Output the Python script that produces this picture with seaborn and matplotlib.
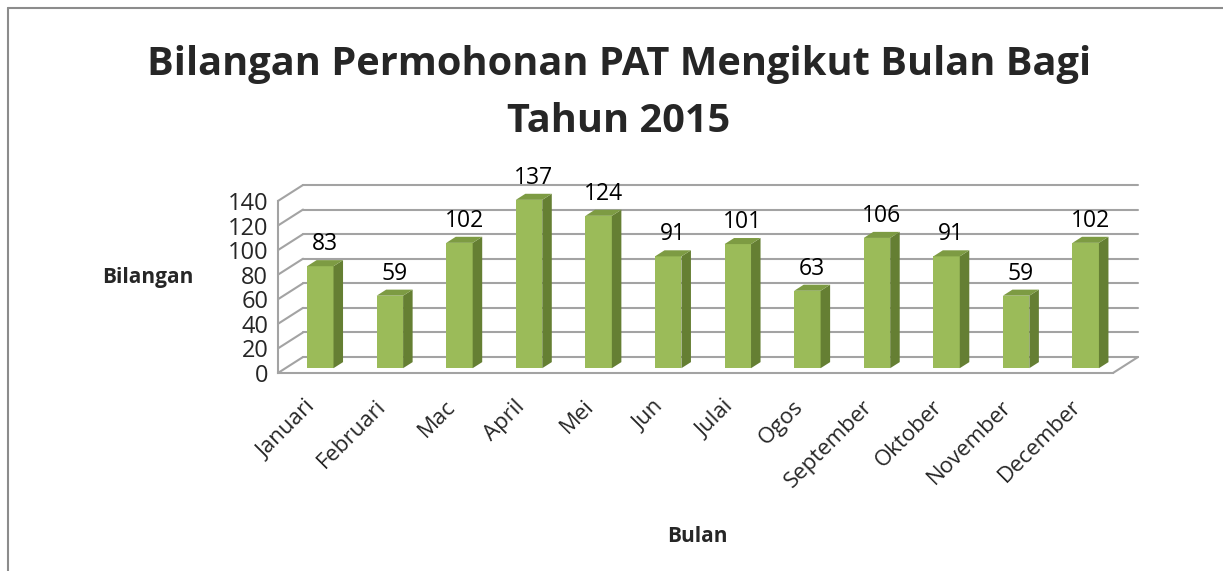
import matplotlib
matplotlib.use('Agg')
import matplotlib.pyplot as plt
from matplotlib.patches import Polygon
from matplotlib.lines import Line2D
import numpy as np
import pandas as pd
import seaborn as sns

months = ['Januari', 'Februari', 'Mac', 'April', 'Mei', 'Jun', 'Julai',
          'Ogos', 'September', 'Oktober', 'November', 'December']
counts = [83, 59, 102, 137, 124, 91, 101, 63, 106, 91, 59, 102]
y_ticks = [0, 20, 40, 60, 80, 100, 120, 140]

title = 'Bilangan Permohonan PAT Mengikut Bulan Bagi\nTahun 2015'
x_title = 'Bulan'
y_title = 'Bilangan'

sns.set_style('white')
plt.rcParams['font.family'] = ['Open Sans', 'DejaVu Sans']

front_col = '#9bbb59'
side_col = '#657f33'
top_col = '#7d9b43'
grid_col = '#a3a3a3'

# fake 3d: depth offset of the back wall in data units
DX = 0.36
DY = 13.0
t0 = 0.3   # where the bar front sits in the depth
td = 0.38  # bar depth

fig = plt.figure(figsize=(12.23, 5.71), dpi=100)
ax = fig.add_axes([0.2273, 0.3468, 0.7112, 0.3443])

df = pd.DataFrame({'Bulan': months, 'Bilangan': counts})
sns.barplot(data=df, x='Bulan', y='Bilangan', color=front_col, width=0.38,
            saturation=1, ax=ax, zorder=3)

n = len(months)
x0, x1 = -0.5, n - 0.5

# walls and floor
for v in y_ticks:
    ax.plot([x0, x0 + DX], [v, v + DY], color=grid_col, lw=1.5, zorder=1, clip_on=False)
    ax.plot([x0 + DX, x1 + DX], [v + DY, v + DY], color=grid_col, lw=1.5, zorder=1, clip_on=False)
ax.plot([x1, x1 + DX], [0, DY], color=grid_col, lw=1.5, zorder=1, clip_on=False)

# shift bars into depth and add side + top faces
for i, p in enumerate(ax.patches):
    p.set_x(p.get_x() + t0 * DX)
    p.set_y(t0 * DY)
    p.set_linewidth(0)
    xl = p.get_x()
    w = p.get_width()
    yb = p.get_y()
    h = p.get_height()
    xr = xl + w
    yt = yb + h
    ax.add_patch(Polygon([(xr, yb), (xr + td * DX, yb + td * DY),
                          (xr + td * DX, yt + td * DY), (xr, yt)],
                         closed=True, facecolor=side_col, edgecolor='none', zorder=3))
    ax.add_patch(Polygon([(xl, yt), (xr, yt), (xr + td * DX, yt + td * DY),
                          (xl + td * DX, yt + td * DY)],
                         closed=True, facecolor=top_col, edgecolor='none', zorder=3))
    ax.text(xl + w / 2 + td * DX / 2, yt + td * DY + 8, str(counts[i]),
            ha='center', va='baseline', fontsize=16.5, color='black', zorder=4)

ax.set_xlim(-0.5, 12.0)
ax.set_ylim(0, 160)
ax.set_yticks(y_ticks)
ax.set_xticks(np.arange(-0.5, n, 1.0), minor=True)
ax.tick_params(axis='x', which='major', length=0, pad=22, labelsize=16)
ax.tick_params(axis='x', which='minor', length=6, width=1.5, color=grid_col, direction='out')
ax.tick_params(axis='y', length=5, width=1.5, color=grid_col, direction='out', labelsize=17, pad=2)
plt.setp(ax.get_xticklabels(), rotation=45, ha='right', va='center', rotation_mode='anchor')

for s in ['top', 'right']:
    ax.spines[s].set_visible(False)
ax.spines['bottom'].set_bounds(x0, x1)
ax.spines['left'].set_bounds(0, 140)
for s in ['bottom', 'left']:
    ax.spines[s].set_color(grid_col)
    ax.spines[s].set_linewidth(1.5)
ax.patch.set_visible(False)

ax.set_xlabel(x_title, fontsize=15, fontweight='bold')
ax.set_ylabel(y_title, fontsize=15, fontweight='bold', rotation=0, ha='center', va='center')
ax.xaxis.set_label_coords(0.4817, -0.778)
ax.yaxis.set_label_coords(-0.1495, 0.488)

fig.text(0.506, 0.838, title, ha='center', va='center', fontsize=28.6,
         fontweight='bold', linespacing=1.6)

# chart frame
fig.add_artist(Line2D([8 / 1223, 8 / 1223], [0, 1 - 8 / 571], color='#8c8c8c', lw=1.5))
fig.add_artist(Line2D([8 / 1223, 1], [1 - 8 / 571, 1 - 8 / 571], color='#8c8c8c', lw=1.5))

fig.savefig('out.png', dpi=100)
